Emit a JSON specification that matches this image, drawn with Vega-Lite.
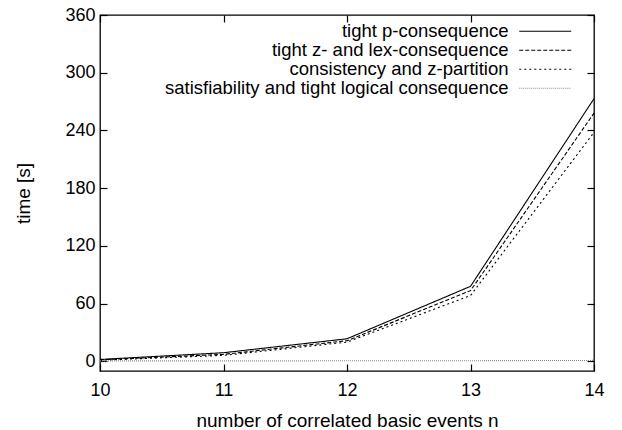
{
  "$schema": "https://vega.github.io/schema/vega-lite/v6.json",
  "width": 494,
  "height": 356,
  "autosize": {"type": "none"},
  "padding": {"left": 100, "top": 15, "right": 28, "bottom": 59},
  "background": "white",
  "config": {
    "font": "Liberation Sans",
    "view": {"stroke": "black", "strokeWidth": 1.3},
    "axis": {
      "grid": false,
      "domain": false,
      "tickColor": "black",
      "tickSize": -7,
      "tickWidth": 1.2,
      "labelFontSize": 18,
      "labelColor": "black",
      "titleFontSize": 19,
      "titleFontWeight": "normal",
      "titleColor": "black",
      "labelFont": "Liberation Sans",
      "titleFont": "Liberation Sans"
    }
  },
  "data": {
    "values": [
      {"n": 10, "time": 2.0, "series": "tight p-consequence"},
      {"n": 11, "time": 9.0, "series": "tight p-consequence"},
      {"n": 12, "time": 23.5, "series": "tight p-consequence"},
      {"n": 13, "time": 78, "series": "tight p-consequence"},
      {"n": 14, "time": 273, "series": "tight p-consequence"},
      {"n": 10, "time": 1.6, "series": "tight z- and lex-consequence"},
      {"n": 11, "time": 7.3, "series": "tight z- and lex-consequence"},
      {"n": 12, "time": 21.5, "series": "tight z- and lex-consequence"},
      {"n": 13, "time": 73.5, "series": "tight z- and lex-consequence"},
      {"n": 14, "time": 258, "series": "tight z- and lex-consequence"},
      {"n": 10, "time": 1.2, "series": "consistency and z-partition"},
      {"n": 11, "time": 6.2, "series": "consistency and z-partition"},
      {"n": 12, "time": 20, "series": "consistency and z-partition"},
      {"n": 13, "time": 68.5, "series": "consistency and z-partition"},
      {"n": 14, "time": 238, "series": "consistency and z-partition"},
      {"n": 10, "time": 0.5, "series": "satisfiability and tight logical consequence"},
      {"n": 11, "time": 0.5, "series": "satisfiability and tight logical consequence"},
      {"n": 12, "time": 0.6, "series": "satisfiability and tight logical consequence"},
      {"n": 13, "time": 0.7, "series": "satisfiability and tight logical consequence"},
      {"n": 14, "time": 1.0, "series": "satisfiability and tight logical consequence"}
    ]
  },
  "layer": [
    {
      "mark": {"type": "line", "strokeWidth": 1.1},
      "encoding": {
        "x": {
          "field": "n", "type": "quantitative",
          "scale": {"domain": [10, 14], "nice": false, "zero": false},
          "axis": {"values": [10, 11, 12, 13, 14], "title": "number of correlated basic events n", "labelPadding": 17, "labelFlush": false, "titlePadding": 12}
        },
        "y": {
          "field": "time", "type": "quantitative",
          "scale": {"domain": [-10, 360], "nice": false, "zero": false},
          "axis": {"values": [0, 60, 120, 180, 240, 300, 360], "title": "time [s]", "labelPadding": 12, "titlePadding": 31}
        },
        "strokeDash": {
          "field": "series", "type": "nominal",
          "scale": {
            "domain": ["tight p-consequence", "tight z- and lex-consequence", "consistency and z-partition", "satisfiability and tight logical consequence"],
            "range": [[1, 0], [4, 2], [2, 3], [1, 1]]
          },
          "legend": null
        },
        "color": {
          "field": "series", "type": "nominal",
          "scale": {
            "domain": ["tight p-consequence", "tight z- and lex-consequence", "consistency and z-partition", "satisfiability and tight logical consequence"],
            "range": ["#000000", "#000000", "#000000", "#888888"]
          },
          "legend": {
            "title": null,
            "orient": "none",
            "legendX": 436,
            "legendY": 7,
            "symbolType": "M-10,0H10",
            "symbolSize": 27,
            "symbolStrokeWidth": 1.1,
            "symbolFillColor": "transparent",
            "symbolDash": {"expr": "datum.index === 0 ? [1,0] : datum.index === 1 ? [4,2] : datum.index === 2 ? [2,3] : [1,1]"},
            "labelAlign": "right",
            "labelOffset": -46,
            "labelFontSize": 18.5,
            "labelColor": "black",
            "labelLimit": 500,
            "rowPadding": -1
          }
        }
      }
    },
    {
      "mark": {"type": "line", "opacity": 0},
      "encoding": {
        "x": {
          "field": "n", "type": "quantitative",
          "scale": {"domain": [10, 14], "nice": false, "zero": false},
          "axis": {"orient": "top", "values": [10, 11, 12, 13, 14], "labels": false, "title": null}
        },
        "y": {
          "field": "time", "type": "quantitative",
          "scale": {"domain": [-10, 360], "nice": false, "zero": false},
          "axis": {"orient": "right", "values": [0, 60, 120, 180, 240, 300, 360], "labels": false, "title": null}
        },
        "detail": {"field": "series", "type": "nominal"}
      }
    }
  ],
  "resolve": {"scale": {"x": "independent", "y": "independent"}}
}
